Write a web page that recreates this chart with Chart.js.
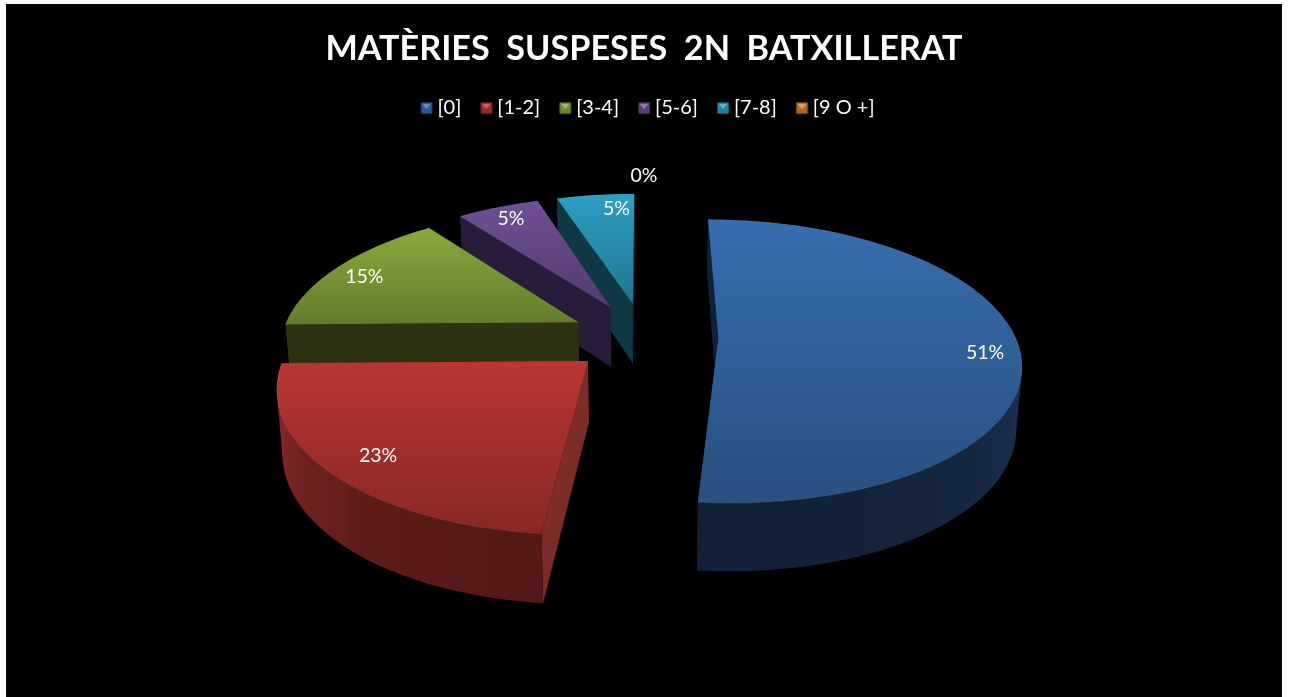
<!DOCTYPE html>
<html>
<head>
<meta charset="utf-8">
<title>Matèries suspeses 2n batxillerat</title>
<script src="https://cdn.jsdelivr.net/npm/chart.js@4/dist/chart.umd.min.js"></script>
<style>
html,body{margin:0;padding:0;background:#fff;overflow:hidden}
#box{position:absolute;left:6px;top:4px;width:1276px;height:693px;background:#000}
</style>
</head>
<body>
<div id="box"><canvas id="c"></canvas></div>
<script>
const chartTitle = 'MATÈRIES  SUSPESES  2N  BATXILLERAT';
const categories = ['[0]', '[1-2]', '[3-4]', '[5-6]', '[7-8]', '[9 O +]'];
const seriesValues = [51.49, 23.16, 14.93, 5.3, 5.0, 0];

const topColors  = [[55,109,176],[186,54,51],[135,170,60],[113,80,150],[45,160,195],[230,125,40]];
const flatWalls  = [[16,32,55],[125,45,40],[44,50,18],[40,28,58],[16,55,68],[110,60,20]];
const wallDark   = [[18,33,56],[84,25,23],[44,50,18],[40,28,58],[16,55,68],[110,60,20]];
const wallLight  = [[28,52,85],[140,42,40],[44,50,18],[40,28,58],[16,55,68],[110,60,20]];
const labelShift = [[3,8],[15,-1],[0,3],[1,1],[17,2],[0,6]];

const VIEW = {fx:1.421, fy:0.658, persp:0.159, explode:0.25, depth:0.2915, depthPersp:0.1065, depthScale:0.985, labelR:0.88, zeroLabelR:1.26};

const rgb = c => 'rgb(' + c.map(v => Math.round(v)).join(',') + ')';
const mix = (a,b,t) => a.map((v,i) => v + (b[i]-v)*t);

function makeIcon(col){
  const s = 20, o = 6, cv = document.createElement('canvas');
  cv.width = s; cv.height = 14;
  const g = cv.getContext('2d');
  g.shadowColor = rgb(col); g.shadowBlur = 1.5;
  const lg = g.createLinearGradient(0,0,0,14);
  lg.addColorStop(0, rgb(mix(col,[0,0,0],0.1)));
  lg.addColorStop(1, rgb(mix(col,[0,0,0],0.25)));
  g.fillStyle = lg;
  g.fillRect(o+1.5,1.5,11,11);
  g.shadowBlur = 0;
  g.fillStyle = rgb(mix(col,[255,255,255],0.25));
  g.beginPath(); g.moveTo(o+3,3); g.lineTo(o+11,3); g.lineTo(o+7,8); g.closePath(); g.fill();
  return cv;
}

const pie3d = {
  id:'pie3d',
  afterLayout(chart){
    chart.legend.left += 3; chart.legend.right += 3;
  },
  beforeDatasetDraw(chart, args){
    const ctx = chart.ctx;
    const arcs = chart.getDatasetMeta(args.index).data;
    const first = arcs[0];
    const R = first.outerRadius, cx = first.x, cy = first.y;
    const fx = VIEW.fx*R, fy = VIEW.fy*R, p = VIEW.persp, dz = VIEW.depth*R;
    const proj = (X,Y) => { const w = 1 - p*Y; return [cx + fx*X/w, cy + fy*Y/w]; };
    const low = q => {
      const s = q[1]-cy, Y = s/(fy + p*s);
      return [cx + (q[0]-cx)*VIEW.depthScale, q[1] + dz/(1 - VIEW.depthPersp*Y)];
    };
    const trace = pts => { pts.forEach((q,i)=> i?ctx.lineTo(q[0],q[1]):ctx.moveTo(q[0],q[1])); ctx.closePath(); };
    const poly = pts => { ctx.beginPath(); trace(pts); };
    const area = pts => pts.reduce((s,q,i)=>{ const r = pts[(i+1)%pts.length]; return s + q[0]*r[1] - r[0]*q[1]; },0);

    const order = arcs.map((_,i)=>i);
    const midOf = a => (a.startAngle + a.endAngle)/2;
    const apexOf = a => { const m = midOf(a); return [VIEW.explode*Math.cos(m), VIEW.explode*Math.sin(m)]; };
    order.sort((a,b)=> apexOf(arcs[a])[1] - apexOf(arcs[b])[1]);

    order.forEach(i => {
      const a = arcs[i];
      const span = a.endAngle - a.startAngle;
      if (span < 1e-4) return;
      const [ex,ey] = apexOf(a);
      const apex = proj(ex,ey);
      const n = Math.max(6, Math.ceil(span*40));
      const rim = [];
      for (let k=0;k<=n;k++){
        const t = a.startAngle + span*k/n;
        rim.push({q:proj(ex+Math.cos(t), ey+Math.sin(t)), t});
      }
      const walls = [];
      [rim[0], rim[n]].forEach(r => {
        walls.push({y: ey + Math.sin(r.t)/2, draw(){
          poly([apex, r.q, low(r.q), low(apex)]);
          ctx.fillStyle = rgb(flatWalls[i]); ctx.fill();
        }});
      });
      walls.push({y: ey + Math.sin(midOf(a))*0.8, draw(){
        const xs = rim.map(r=>r.q[0]);
        const x0 = Math.min(...xs), x1 = Math.max(...xs);
        const g = ctx.createLinearGradient(x0,0,x1,0);
        const front = rim.filter(r => Math.sin(r.t) > -0.05);
        const pool = front.length ? front : rim;
        const step = 8;
        for (let b=0;b<=step;b++){
          const tx = x0 + (x1-x0)*b/step;
          let best = pool[0];
          pool.forEach(r => { if (Math.abs(r.q[0]-tx) < Math.abs(best.q[0]-tx)) best = r; });
          const t = Math.min(1, Math.max(0, 1 - Math.sin(best.t)));
          g.addColorStop(b/step, rgb(mix(wallDark[i], wallLight[i], t)));
        }
        ctx.fillStyle = g;
        ctx.beginPath();
        for (let k=0;k<n;k++){
          const quad = [rim[k].q, rim[k+1].q, low(rim[k+1].q), low(rim[k].q)];
          trace(area(quad) < 0 ? quad.reverse() : quad);
        }
        ctx.fill('nonzero');
      }});
      walls.sort((u,v)=>u.y-v.y).forEach(w=>w.draw());

      const pts = [apex].concat(rim.map(r=>r.q));
      const ys = pts.map(q=>q[1]);
      const g = ctx.createLinearGradient(0, Math.min(...ys), 0, Math.max(...ys));
      g.addColorStop(0, rgb(topColors[i]));
      g.addColorStop(1, rgb(mix(topColors[i],[0,0,0],0.27)));
      poly(pts);
      ctx.fillStyle = g; ctx.fill();

      ctx.beginPath();
      rim.forEach((r,k)=> k?ctx.lineTo(r.q[0],r.q[1]):ctx.moveTo(r.q[0],r.q[1]));
      ctx.strokeStyle = 'rgba(255,255,255,0.10)'; ctx.lineWidth = 1; ctx.stroke();
    });

    ctx.save();
    ctx.fillStyle = '#fff';
    ctx.font = '19.5px Lato';
    ctx.textAlign = 'center'; ctx.textBaseline = 'middle';
    arcs.forEach((a,i) => {
      const [ex,ey] = apexOf(a);
      const m = midOf(a);
      const rr = seriesValues[i] < 0.5 ? VIEW.zeroLabelR : VIEW.labelR;
      const q = proj(ex + rr*Math.cos(m), ey + rr*Math.sin(m));
      ctx.fillText(Math.round(seriesValues[i]) + '%', q[0] + labelShift[i][0], q[1] + labelShift[i][1]);
    });
    ctx.restore();
    return false;
  }
};

new Chart(document.getElementById('c'), {
  type:'pie',
  data:{ labels:categories, datasets:[{ data:seriesValues, backgroundColor:topColors.map(rgb), borderWidth:0 }] },
  options:{
    responsive:true, maintainAspectRatio:false, animation:false,
    layout:{ padding:{ left:0, right:0, top:0, bottom:151 } },
    plugins:{
      tooltip:{enabled:false},
      title:{ display:true, text:chartTitle, color:'#fff', font:{family:'Lato', size:34.2, weight:'bold'}, padding:{top:24, bottom:11} },
      legend:{ position:'top', labels:{
        color:'#fff', font:{family:'Lato', size:20}, usePointStyle:true, pointStyleWidth:8, padding:18,
        generateLabels(chart){
          return categories.map((t,i)=>({ text:t, fontColor:'#fff', fillStyle:rgb(topColors[i]), strokeStyle:'transparent', lineWidth:0, pointStyle:makeIcon(topColors[i]), hidden:false, index:i }));
        }
      }}
    }
  },
  plugins:[pie3d]
});
</script>
</body>
</html>
